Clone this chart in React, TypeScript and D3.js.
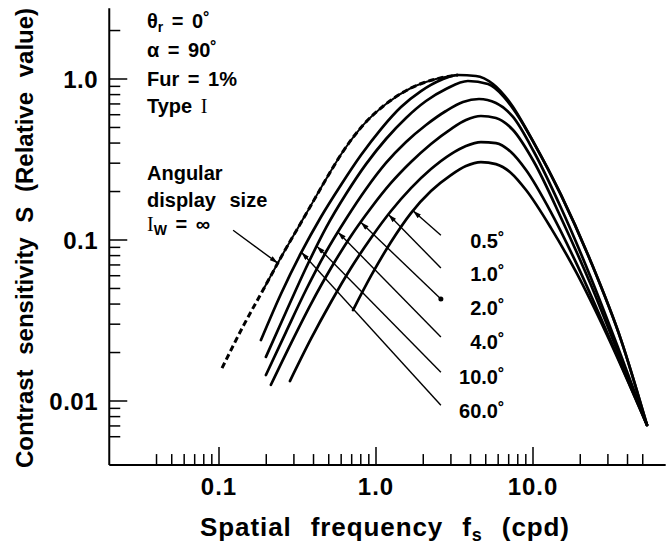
import React from 'react';
import * as d3 from 'd3';

type Pt = [number, number];

// axis ticks
const xMajorTicks = [0.1, 1, 10];
const xTickLabels = ['0.1', '1.0', '10.0'];
const xMinorTicks = [0.04, 0.05, 0.06, 0.07, 0.08, 0.09, 0.2, 0.3, 0.4, 0.5, 0.6, 0.7, 0.8, 0.9, 2, 3, 4, 5, 6, 7, 8, 9, 20, 30, 40, 50];
const yMajorTicks = [0.01, 0.1, 1];
const yTickLabels = ['0.01', '0.1', '1.0'];
const yMinorTicks = [0.006, 0.007, 0.008, 0.009, 0.02, 0.03, 0.04, 0.05, 0.06, 0.07, 0.08, 0.09, 0.2, 0.3, 0.4, 0.5, 0.6, 0.7, 0.8, 0.9, 2];

// curves: [spatial frequency (cpd), relative sensitivity]
const curveInf: Pt[] = [
  [0.1045, 0.016], [0.144, 0.0297], [0.1907, 0.0489], [0.2594, 0.0842], [0.364, 0.149], [0.473, 0.2325],
  [0.625, 0.362], [0.839, 0.525], [1.158, 0.7], [1.67, 0.879], [2.41, 1.0], [3.33, 1.059],
];
const curve05: Pt[] = [
  [0.714, 0.0367], [0.929, 0.0598], [1.246, 0.0972], [1.67, 0.147], [2.24, 0.2015], [3.0, 0.253], [3.74, 0.288],
  [4.66, 0.305], [5.81, 0.296], [7.24, 0.261], [9.03, 0.2044], [13.0, 0.119], [18.8, 0.0633], [29.2, 0.0265], [53.2, 0.0071],
];
const curve10: Pt[] = [
  [0.283, 0.0133], [0.385, 0.0243], [0.517, 0.0412], [0.693, 0.067], [0.929, 0.1029], [1.246, 0.1514], [1.67, 0.21],
  [2.24, 0.276], [3.0, 0.342], [3.74, 0.384], [4.66, 0.406], [5.81, 0.4], [7.24, 0.352], [9.03, 0.272], [13.0, 0.149],
  [19.1, 0.07], [29.2, 0.0276], [53.2, 0.0071],
];
const curve20: Pt[] = [
  [0.214, 0.0126], [0.288, 0.0229], [0.385, 0.04], [0.517, 0.067], [0.693, 0.1059], [0.929, 0.158], [1.246, 0.226],
  [1.67, 0.305], [2.24, 0.395], [3.0, 0.489], [3.74, 0.556], [4.66, 0.589], [5.81, 0.573], [7.46, 0.482], [10.15, 0.305],
  [15.1, 0.137], [23.4, 0.0525], [35.3, 0.0193], [53.2, 0.0071],
];
const curve40: Pt[] = [
  [0.199, 0.0145], [0.267, 0.0268], [0.358, 0.0489], [0.48, 0.0842], [0.644, 0.135], [0.864, 0.2074], [1.158, 0.301],
  [1.553, 0.406], [2.082, 0.518], [2.79, 0.633], [3.58, 0.72], [4.53, 0.751], [5.81, 0.71], [7.46, 0.581], [10.15, 0.352],
  [15.1, 0.158], [23.4, 0.0581], [35.3, 0.0207], [53.2, 0.0071],
];
const curve100: Pt[] = [
  [0.199, 0.0188], [0.267, 0.0357], [0.358, 0.067], [0.48, 0.119], [0.644, 0.193], [0.864, 0.296], [1.158, 0.424],
  [1.553, 0.573], [2.082, 0.73], [2.79, 0.867], [3.85, 0.972], [5.17, 0.931], [6.54, 0.773], [7.8, 0.615], [10.15, 0.4],
  [15.1, 0.19], [23.4, 0.073], [36.4, 0.0239], [53.2, 0.0071],
];
const curve600: Pt[] = [
  [0.185, 0.0239], [0.248, 0.0462], [0.333, 0.0831], [0.446, 0.139], [0.598, 0.2196], [0.803, 0.337], [1.076, 0.489],
  [1.443, 0.67], [1.935, 0.842], [2.59, 0.986], [3.33, 1.059], [4.33, 1.044], [5.56, 0.931], [7.24, 0.7], [10.15, 0.4],
  [15.1, 0.19], [23.4, 0.073], [36.4, 0.0239], [53.2, 0.0071],
];

const sizeLabels = ['0.5˚', '1.0˚', '2.0˚', '4.0˚', '10.0˚', '60.0˚'];
const sizeCurves = [curve05, curve10, curve20, curve40, curve100, curve600];
const arrowTipFreq = [1.72, 1.2, 0.8, 0.573, 0.42, 0.335];
const arrowTailFreq = 2.59;
const arrowTailSens = [0.107, 0.067, 0.043, 0.025, 0.0151, 0.0094];
const labelFreq = 6.6;
const labelSens = [0.0892, 0.0556, 0.0342, 0.021, 0.0128, 0.0078];
const infTipFreq = 0.237;
const infTail: Pt = [0.123, 0.115];

const W = 666;
const H = 550;
const FONT = '"Liberation Sans", Arial, Helvetica, sans-serif';

const x = d3.scaleLog().domain([0.1, 10]).range([219, 533]);
const y = d3.scaleLog().domain([0.01, 1]).range([401, 79]);

const line = d3
  .line<Pt>()
  .x((d) => x(d[0]))
  .y((d) => y(d[1]))
  .curve(d3.curveMonotoneX);

// log-log interpolation of a curve at frequency f
function sensAt(c: Pt[], f: number): number {
  for (let i = 0; i < c.length - 1; i++) {
    if (f >= c[i][0] && f <= c[i + 1][0]) {
      const t = (Math.log(f) - Math.log(c[i][0])) / (Math.log(c[i + 1][0]) - Math.log(c[i][0]));
      return Math.exp(Math.log(c[i][1]) + t * (Math.log(c[i + 1][1]) - Math.log(c[i][1])));
    }
  }
  return c[0][1];
}

export default function App() {
  const x0 = x(0.02);
  const x1 = x(70);
  const yTop = y(2.75);
  const yBot = y(0.004);

  return (
    <svg width={W} height={H} style={{ position: 'absolute', left: 0, top: 0, background: '#fff' }} fontFamily={FONT}>
      <defs>
        <marker id="ah" viewBox="0 0 10 6" refX="10" refY="3" markerWidth="9" markerHeight="5" markerUnits="userSpaceOnUse" orient="auto">
          <path d="M0,0 L10,3 L0,6 Z" fill="#000" />
        </marker>
      </defs>

      {/* axes */}
      <line x1={x0} x2={x0} y1={yTop} y2={yBot} stroke="#000" strokeWidth={2} />
      <line x1={x0} x2={x1} y1={yBot} y2={yBot} stroke="#000" strokeWidth={2} />

      {xMinorTicks.map((t) => (
        <line key={'xm' + t} x1={x(t)} x2={x(t)} y1={yBot} y2={yBot - 11} stroke="#000" strokeWidth={1.5} />
      ))}
      {xMajorTicks.map((t, i) => (
        <g key={'xM' + t}>
          <line x1={x(t)} x2={x(t)} y1={yBot} y2={yBot - 18} stroke="#000" strokeWidth={1.5} />
          <text x={x(t)} y={495} textAnchor="middle" fontSize={24} fontWeight="bold" letterSpacing={1}>
            {xTickLabels[i]}
          </text>
        </g>
      ))}
      {yMinorTicks.map((t) => (
        <line key={'ym' + t} x1={x0} x2={x0 + 11} y1={y(t)} y2={y(t)} stroke="#000" strokeWidth={1.5} />
      ))}
      {yMajorTicks.map((t, i) => (
        <g key={'yM' + t}>
          <line x1={x0} x2={x0 + 18} y1={y(t)} y2={y(t)} stroke="#000" strokeWidth={1.5} />
          <text x={98} y={y(t) + 9} textAnchor="end" fontSize={24} fontWeight="bold" letterSpacing={0.5}>
            {yTickLabels[i]}
          </text>
        </g>
      ))}

      {/* axis titles */}
      <text x={385} y={536} textAnchor="middle" fontSize={26} fontWeight="bold" wordSpacing={11} letterSpacing={0.9}>
        Spatial frequency f<tspan fontSize={18} dy={5}>s</tspan>
        <tspan dy={-5}> (cpd)</tspan>
      </text>
      <text transform="translate(33,238) rotate(-90)" textAnchor="middle" fontSize={24} fontWeight="bold" wordSpacing={8}>
        Contrast sensitivity S (Relative value)
      </text>

      {/* curves */}
      <path d={line(curveInf) || ''} fill="none" stroke="#000" strokeWidth={3} strokeDasharray="6 3.5" />
      <path d={line(curveInf.slice(2)) || ''} fill="none" stroke="#000" strokeWidth={2} />
      {sizeCurves.map((c, i) => (
        <path key={'c' + i} d={line(c) || ''} fill="none" stroke="#000" strokeWidth={2.7} strokeLinecap="round" />
      ))}

      {/* size arrows + labels */}
      {sizeCurves.map((c, i) => {
        const tx = x(arrowTipFreq[i]);
        const ty = y(sensAt(c, arrowTipFreq[i]));
        const sx = x(arrowTailFreq);
        const sy = y(arrowTailSens[i]);
        return (
          <g key={'a' + i}>
            <line x1={sx} y1={sy} x2={tx} y2={ty} stroke="#000" strokeWidth={1.4} markerEnd="url(#ah)" />
            {i === 2 && <circle cx={sx} cy={sy} r={2.5} fill="#000" />}
            <text x={x(labelFreq)} y={y(labelSens[i])} textAnchor="end" fontSize={20} fontWeight="bold">
              {sizeLabels[i]}
            </text>
          </g>
        );
      })}
      <line
        x1={x(infTail[0])}
        y1={y(infTail[1])}
        x2={x(infTipFreq)}
        y2={y(sensAt(curveInf, infTipFreq))}
        stroke="#000"
        strokeWidth={1.4}
        markerEnd="url(#ah)"
      />

      {/* annotations */}
      <g fontSize={20} fontWeight="bold" wordSpacing={3}>
        <text x={147} y={28}>
          θ<tspan fontSize={14} dy={4}>r</tspan>
          <tspan dy={-4}> = 0˚</tspan>
        </text>
        <text x={147} y={57}>α = 90˚</text>
        <text x={147} y={86}>Fur = 1%</text>
        <text x={147} y={113}>
          Type <tspan fontFamily="'Liberation Serif', serif" fontWeight="normal">I</tspan>
        </text>
        <text x={147} y={180}>Angular</text>
        <text x={147} y={207} wordSpacing={8}>display size</text>
        <text x={147} y={231}>
          <tspan fontFamily="'Liberation Serif', serif" fontWeight="normal">I</tspan>
          <tspan fontSize={14} dy={4}>W</tspan>
          <tspan dy={-4}> = ∞</tspan>
        </text>
      </g>
    </svg>
  );
}
